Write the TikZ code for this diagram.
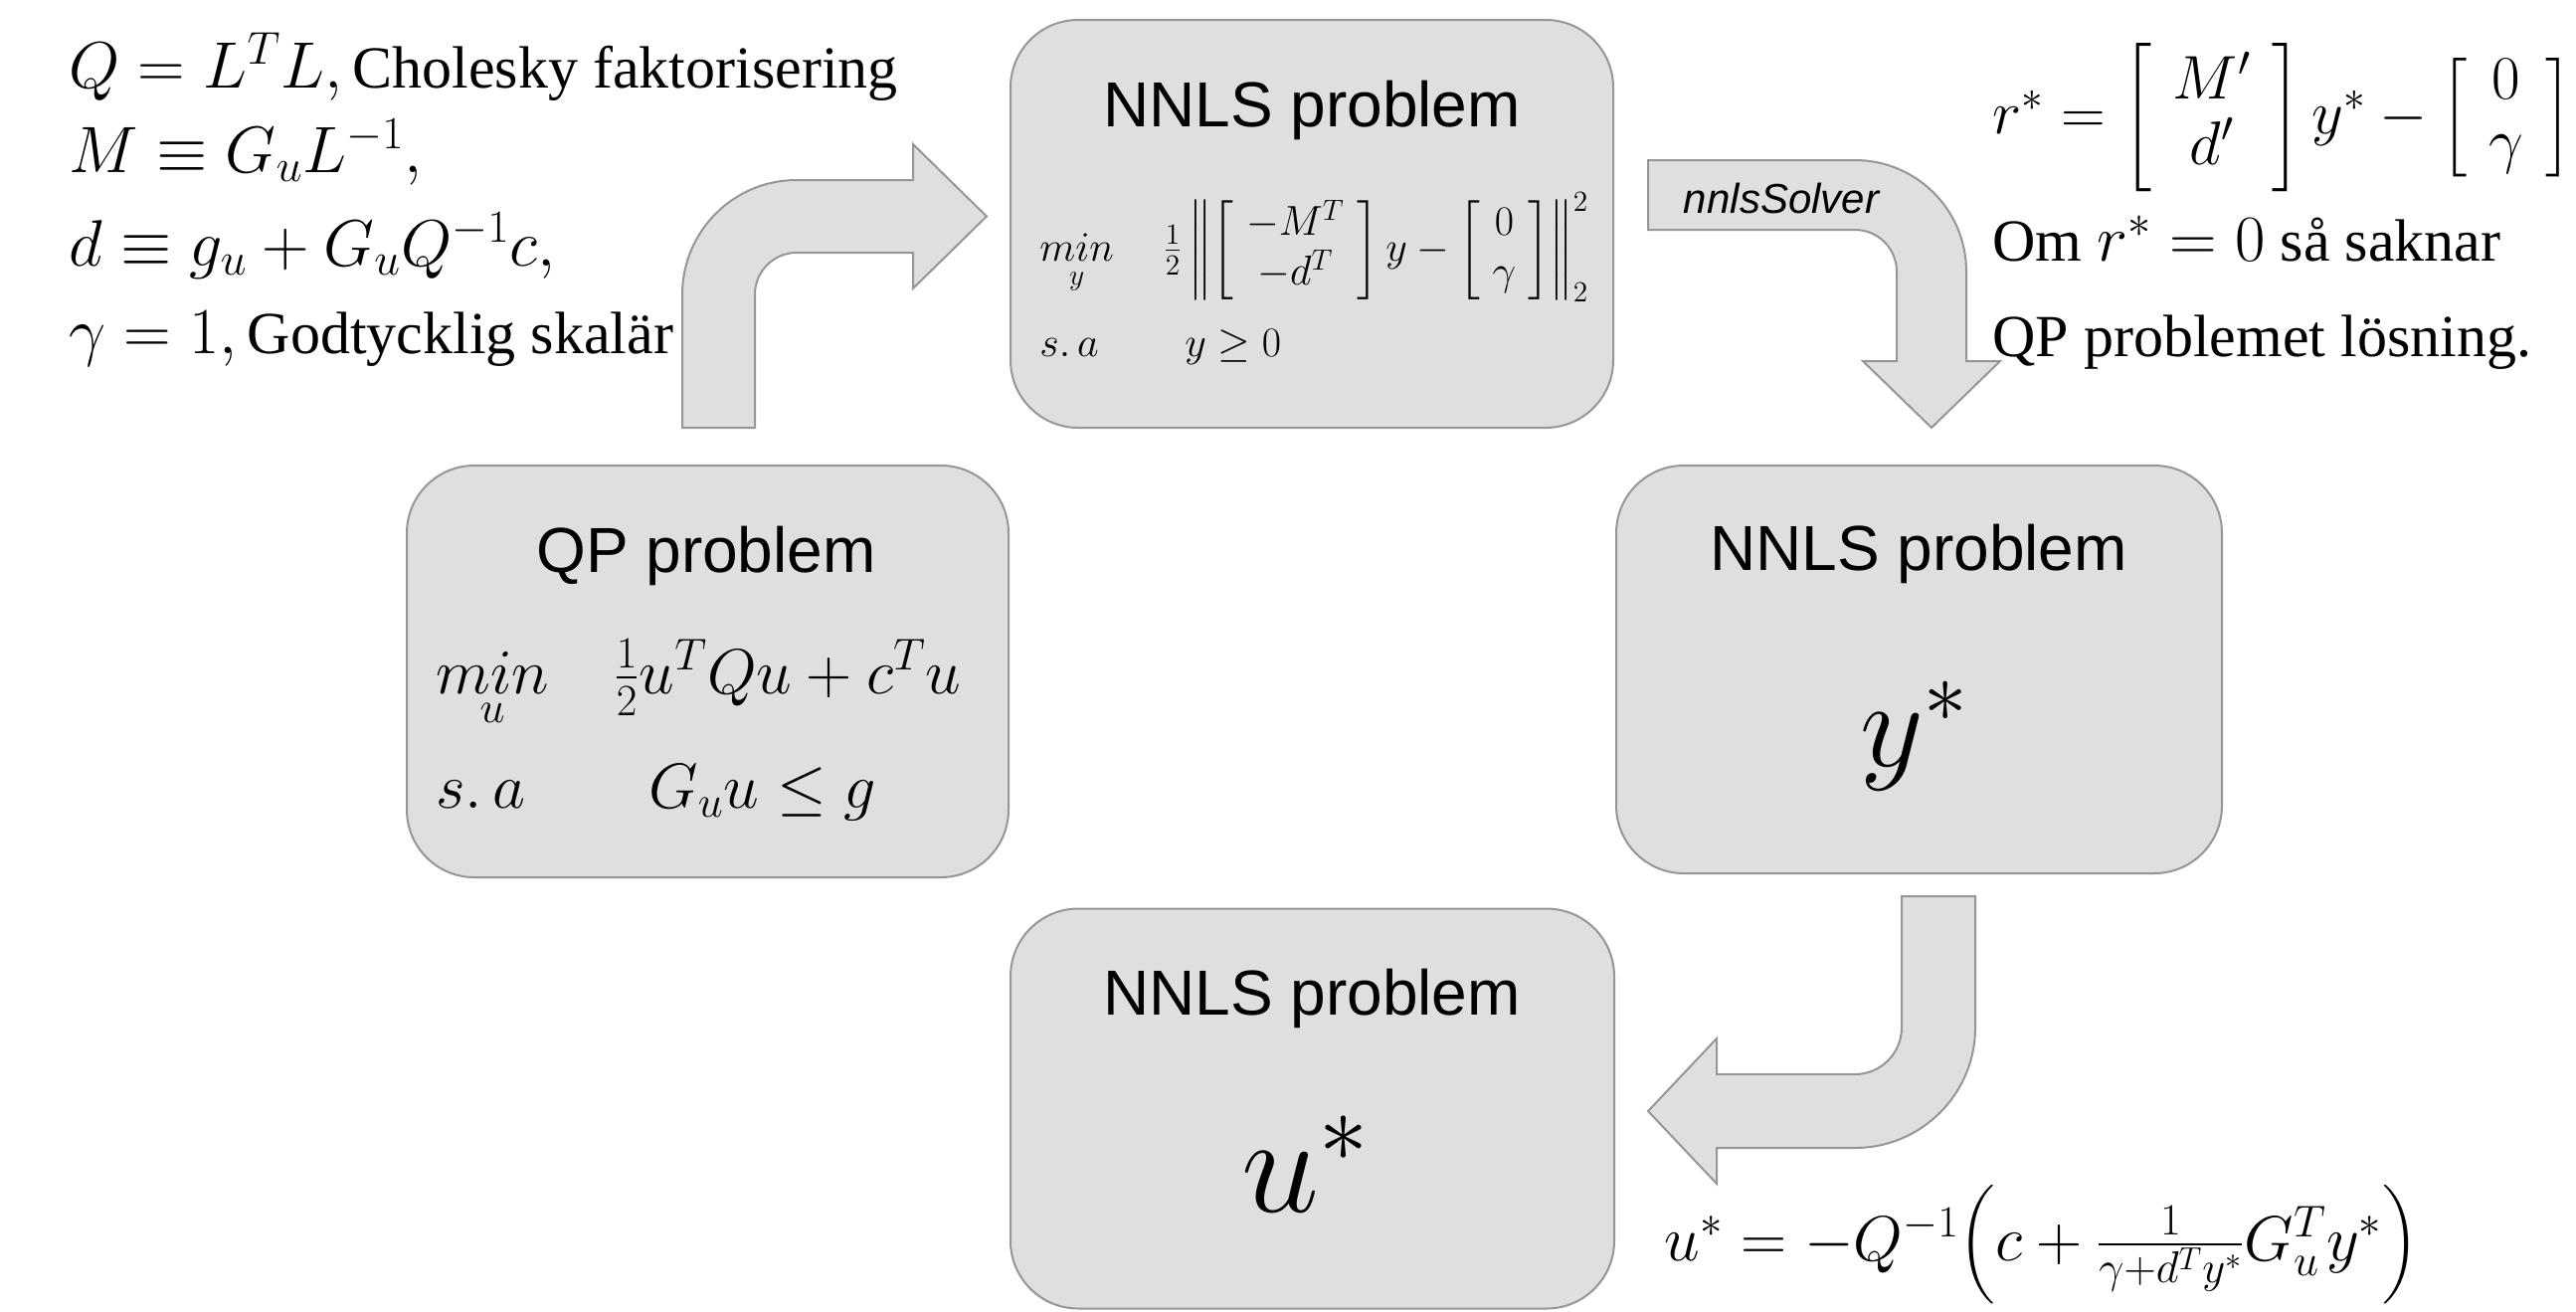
\RequirePackage{fix-cm}
\documentclass[tikz,border=0pt]{standalone}
\usepackage{amsmath}
\usepackage{fontspec}
\setmainfont{Liberation Serif}
\setsansfont{Liberation Sans}
\definecolor{boxfill}{RGB}{223,223,223}
\definecolor{boxline}{RGB}{150,150,150}
\newcommand{\mth}[1]{{\fontsize{33}{40}\selectfont$#1$}}
\tikzset{
  panel/.style={draw=boxline, fill=boxfill, line width=1pt, rounded corners=34pt, inner sep=0pt},
  blockarrow/.style={draw=boxline, fill=boxfill, line width=1pt, line join=miter},
  title/.style={font=\sffamily\fontsize{32}{38}\selectfont, anchor=base, inner sep=0pt},
  txt/.style={font=\fontsize{30}{36}\selectfont, anchor=base west, inner sep=0pt},
  qpmath/.style={font=\fontsize{32}{38}\selectfont, anchor=base west, inner sep=0pt},
  smallmath/.style={font=\fontsize{21}{25}\selectfont, anchor=base west, inner sep=0pt},
  lbl/.style={font=\sffamily\itshape\fontsize{21}{25}\selectfont, anchor=center, inner sep=0pt}
}
\begin{document}
\begin{tikzpicture}[x=0.5pt,y=-0.5pt]
\path[use as bounding box] (0,0) rectangle (2590,1318);

% block arrows
\path[blockarrow] (686,430) -- (686,296) .. controls (686,232.5) and (737.5,181) .. (801,181)
  -- (918,181) -- (918,145) -- (992,217.5) -- (918,290) -- (918,254) -- (801,254)
  .. controls (777.8,254) and (759,272.8) .. (759,296) -- (759,430) -- cycle;
\path[blockarrow] (1657,161) -- (1865,161) .. controls (1926.9,161) and (1977,211.1) .. (1977,273)
  -- (1977,363) -- (2011,363) -- (1942,430) -- (1873,363) -- (1907,363) -- (1907,273)
  .. controls (1907,249.8) and (1888.2,231) .. (1865,231) -- (1657,231) -- cycle;
\path[blockarrow] (1912,901) -- (1986,901) -- (1986,1033) .. controls (1986,1099.8) and (1931.8,1154) .. (1865,1154)
  -- (1726,1154) -- (1726,1190) -- (1657,1117) -- (1726,1044) -- (1726,1080) -- (1865,1080)
  .. controls (1890.9,1080) and (1912,1058.9) .. (1912,1033) -- cycle;

% panels
\node[panel, minimum width=303pt, minimum height=205pt] (nnlsA) at (1319,225) {};
\node[panel, minimum width=302.5pt, minimum height=207pt] (qp) at (711.5,675) {};
\node[panel, minimum width=304.5pt, minimum height=205pt] (nnlsB) at (1929.5,673) {};
\node[panel, minimum width=303.5pt, minimum height=201pt] (nnlsC) at (1319.5,1114.5) {};

% titles
\node[title] (tA) at (1319,127) {NNLS problem};
\node[title] (tQ) at (710,575) {QP problem};
\node[title] (tB) at (1929,573) {NNLS problem};
\node[title] (tC) at (1319,1020) {NNLS problem};

% top NNLS formula
\node[smallmath] (minA) at (1045,262) {$\underset{y}{min}$};
\node[smallmath] (objA) at (1169,262) {$\frac12\left\|\setlength\arraycolsep{0.3em}\left[\begin{array}{c}-M^T\\-d^T\end{array}\right]y-\left[\begin{array}{c}0\\\gamma\end{array}\right]\right\|_2^2$};
\node[smallmath] (saA) at (1045,358) {$s.\,a$};
\node[smallmath] (conA) at (1191,358) {$y\geq 0$};

% QP formula
\node[qpmath] (minQ) at (438,697) {$\underset{u}{min}$};
\node[qpmath] (objQ) at (617,697) {$\frac12u^TQu+c^Tu$};
\node[qpmath] (saQ) at (438,812) {$s.\,a$};
\node[qpmath] (conQ) at (652,812) {$G_uu\leq g$};

% results
\node[font=\fontsize{62}{72}\selectfont, anchor=base west, inner sep=0pt] (ystar) at (1870,770) {$y^*$};
\node[font=\fontsize{70}{82}\selectfont, anchor=base west, inner sep=0pt] (ustar) at (1248,1218) {$u^*$};

% arrow label
\node[lbl] (solver) at (1791,199) {nnlsSolver};

% left definitions
\node[txt] (d1) at (69,88) {\mth{Q=L^TL,}\,Cholesky faktorisering};
\node[txt] (d2) at (69,173) {\mth{M\equiv G_uL^{-1},}};
\node[txt] (d3) at (69,267) {\mth{d\equiv g_u+G_uQ^{-1}c,}};
\node[txt] (d4) at (69,355) {\mth{\gamma=1,}\,Godtycklig skalär};

% right texts
\node[txt, font=\fontsize{31}{36}\selectfont] (r1) at (2003,134) {$\setlength\arraycolsep{0.35em}\renewcommand\arraystretch{0.88}r^*=\left[\begin{array}{c}M'\\d'\end{array}\right]y^*-\left[\begin{array}{c}0\\\gamma\end{array}\right]$};
\node[txt] (r2) at (2003,262) {Om \mth{r^*=0} så saknar};
\node[txt] (r3) at (2003,358) {QP problemet lösning.};

% u* formula
\node[font=\fontsize{32}{38}\selectfont, anchor=base west, inner sep=0pt] (uf) at (1673,1267) {$u^*=-Q^{-1}\Bigl(c+\frac{1}{\gamma+d^Ty^*}G_u^Ty^*\Bigr)$};
\end{tikzpicture}
\end{document}
